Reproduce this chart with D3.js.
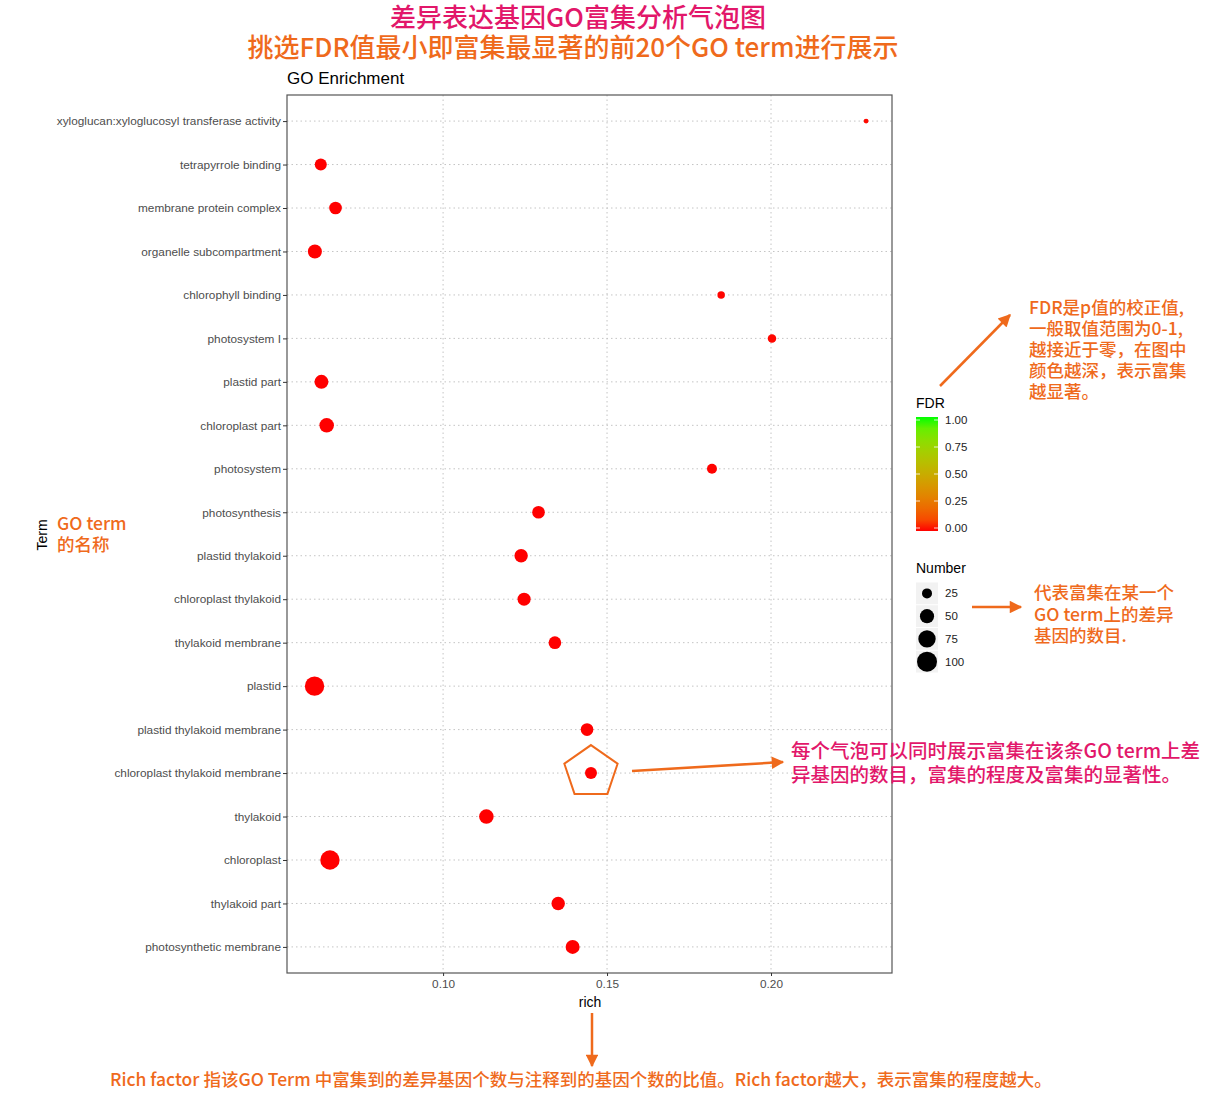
<!DOCTYPE html>
<html>
<head>
<meta charset="utf-8">
<script src="https://cdn.jsdelivr.net/npm/d3@7"></script>
<style>
  body { margin: 0; background: #fff; }
  text { font-family: "Liberation Sans", Arial, sans-serif; }
  .cn { font-family: "Noto Sans CJK SC", "Noto Sans", sans-serif; font-weight: 500; }
</style>
</head>
<body>
<div id="mydiv"></div>
<script>
// data, top row first
const terms = [
  "xyloglucan:xyloglucosyl transferase activity", "tetrapyrrole binding",
  "membrane protein complex", "organelle subcompartment", "chlorophyll binding",
  "photosystem I", "plastid part", "chloroplast part", "photosystem",
  "photosynthesis", "plastid thylakoid", "chloroplast thylakoid",
  "thylakoid membrane", "plastid", "plastid thylakoid membrane",
  "chloroplast thylakoid membrane", "thylakoid", "chloroplast",
  "thylakoid part", "photosynthetic membrane"
];
const rich = [0.229, 0.0627, 0.0672, 0.0609, 0.1848, 0.2003, 0.0629, 0.0645, 0.182,
  0.1291, 0.1238, 0.1247, 0.1341, 0.0608, 0.1439, 0.1451, 0.1132, 0.0655, 0.1351, 0.1395];
const number = [6, 36, 40, 49, 14, 18, 49, 53, 25, 40, 45, 43, 40, 94, 40, 36, 53, 94, 45, 49];
const fdr = [0.004, 0.0001, 0.0001, 0.0001, 0.002, 0.003, 0.0001, 0.0001, 0.001,
  0.0001, 0.0001, 0.0001, 0.0001, 0.0001, 0.0001, 0.0001, 0.0001, 0.0001, 0.0001, 0.0001];
const xTicks = [0.10, 0.15, 0.20];
const fdrTicks = [0, 0.25, 0.5, 0.75, 1];
const sizeBreaks = [25, 50, 75, 100];

const orange = "#ef6a1c", pink = "#e2176a";

const svg = d3.select("#mydiv").append("svg")
  .attr("width", 1215).attr("height", 1111);

const pL = 287, pR = 892, pT = 95, pB = 973;

const x = d3.scaleLinear().domain([0.0524, 0.2369]).range([pL, pR]);
const y = d3.scalePoint().domain(terms).range([pT, pB]).padding(0.6);
const r = d3.scaleSqrt().domain([0, 100]).range([0, 10]);
const color = d3.scaleLinear().domain([0, 1]).range(["#ff0000", "#00ff00"])
  .interpolate(d3.interpolateLab);

const defs = svg.append("defs");

// grid
const grid = svg.append("g").attr("stroke", "#c4c4c4").attr("stroke-dasharray", "1.5,3");
grid.selectAll(".gy").data(terms).enter().append("line")
  .attr("x1", pL).attr("x2", pR)
  .attr("y1", d => y(d)).attr("y2", d => y(d));
grid.selectAll(".gx").data(xTicks).enter().append("line")
  .attr("x1", d => x(d)).attr("x2", d => x(d))
  .attr("y1", pT).attr("y2", pB);

// points
svg.append("g").selectAll("circle")
  .data(terms).enter().append("circle")
  .attr("cx", (d, i) => x(rich[i]))
  .attr("cy", d => y(d))
  .attr("r", (d, i) => r(number[i]))
  .attr("fill", (d, i) => color(fdr[i]));

// panel border
svg.append("rect").attr("x", pL).attr("y", pT)
  .attr("width", pR - pL).attr("height", pB - pT)
  .attr("fill", "none").attr("stroke", "#555").attr("stroke-width", 1.2);

// axes
const ya = svg.append("g").attr("transform", `translate(${pL},0)`)
  .call(d3.axisLeft(y).tickSize(4).tickPadding(2));
const xa = svg.append("g").attr("transform", `translate(0,${pB})`)
  .call(d3.axisBottom(x).tickValues(xTicks).tickFormat(d3.format(".2f")).tickSize(3).tickPadding(4));
[ya, xa].forEach(a => {
  a.select(".domain").remove();
  a.selectAll(".tick line").attr("stroke", "#333");
  a.selectAll(".tick text").attr("fill", "#4d4d4d").style("font-size", "11.8px")
    .style("font-family", "Liberation Sans, Arial, sans-serif");
});

svg.append("text").attr("x", pL).attr("y", 84)
  .style("font-size", "17px").attr("fill", "#000").text("GO Enrichment");
svg.append("text").attr("x", 590).attr("y", 1007).attr("text-anchor", "middle")
  .style("font-size", "14px").text("rich");
svg.append("text").attr("transform", "translate(47,535) rotate(-90)")
  .attr("text-anchor", "middle").style("font-size", "14px").text("Term");

// FDR legend
const lg = svg.append("g");
lg.append("text").attr("x", 916).attr("y", 408).style("font-size", "14px").text("FDR");
const grad = defs.append("linearGradient").attr("id", "fdrg")
  .attr("x1", 0).attr("y1", 1).attr("x2", 0).attr("y2", 0);
d3.range(0, 1.01, 0.1).forEach(t => {
  grad.append("stop").attr("offset", t).attr("stop-color", color(t));
});
const cb = d3.scaleLinear().domain([0, 1]).range([528, 420]);
lg.append("rect").attr("x", 916).attr("y", 417).attr("width", 22).attr("height", 114)
  .attr("fill", "url(#fdrg)");
lg.selectAll(".ct").data(fdrTicks).enter().append("g").each(function (d) {
  const g = d3.select(this);
  g.append("line").attr("x1", 916).attr("x2", 920).attr("y1", cb(d)).attr("y2", cb(d))
    .attr("stroke", "#fff").attr("stroke-width", 0.8);
  g.append("line").attr("x1", 934).attr("x2", 938).attr("y1", cb(d)).attr("y2", cb(d))
    .attr("stroke", "#fff").attr("stroke-width", 0.8);
  g.append("text").attr("x", 945).attr("y", cb(d) + 4).style("font-size", "11.5px")
    .attr("fill", "#222").text(d3.format(".2f")(d));
});

// Number legend
lg.append("text").attr("x", 916).attr("y", 573).style("font-size", "14px").text("Number");
const ky = d3.scaleBand().domain(sizeBreaks).range([582, 673]);
const keys = lg.selectAll(".sk").data(sizeBreaks).enter().append("g");
keys.append("rect").attr("x", 916).attr("y", d => ky(d) + 0.5)
  .attr("width", 22).attr("height", ky.bandwidth() - 1).attr("fill", "#f2f2f2");
keys.append("circle").attr("cx", 927).attr("cy", d => ky(d) + ky.bandwidth() / 2)
  .attr("r", d => r(d)).attr("fill", "#000");
keys.append("text").attr("x", 945).attr("y", d => ky(d) + ky.bandwidth() / 2 + 4)
  .style("font-size", "11.5px").attr("fill", "#222").text(d => d);

// annotations
defs.append("marker").attr("id", "ah").attr("viewBox", "0 0 10 10")
  .attr("refX", 9).attr("refY", 5).attr("markerWidth", 6).attr("markerHeight", 5)
  .attr("markerUnits", "strokeWidth").attr("orient", "auto")
  .append("path").attr("d", "M0,0 L10,5 L0,10 z").attr("fill", orange);

function arrow(x1, y1, x2, y2) {
  svg.append("line").attr("x1", x1).attr("y1", y1).attr("x2", x2).attr("y2", y2)
    .attr("stroke", orange).attr("stroke-width", 2.5).attr("marker-end", "url(#ah)");
}
function lines(arr, x0, y0, dy, size, fill, anchor) {
  arr.forEach((s, i) => svg.append("text").attr("class", "cn")
    .style("font-size", size + "px").attr("fill", fill)
    .attr("text-anchor", anchor || "start")
    .attr("x", x0).attr("y", y0 + i * dy).text(s));
}

lines(["差异表达基因GO富集分析气泡图"], 578, 27, 0, 26, pink, "middle");
lines(["挑选FDR值最小即富集最显著的前20个GO term进行展示"], 573, 57, 0, 26, orange, "middle");

lines(["FDR是p值的校正值,", "一般取值范围为0-1,", "越接近于零，在图中", "颜色越深，表示富集", "越显著。"],
  1029, 314, 21, 17.5, orange);
arrow(940, 386, 1010, 315);

lines(["代表富集在某一个", "GO term上的差异", "基因的数目."], 1034, 599, 21.5, 17.5, orange);
arrow(972, 607, 1021, 607);

lines(["GO term", "的名称"], 57, 530, 21, 17.5, orange);

lines(["每个气泡可以同时展示富集在该条GO term上差", "异基因的数目，富集的程度及富集的显著性。"],
  791, 758, 24, 19.5, pink);
arrow(632, 771, 783, 762);

// pentagon around the chloroplast thylakoid membrane point
const pc = [x(rich[15]), y(terms[15]) - 1];
const pent = d3.range(5).map(k => {
  const a = -Math.PI / 2 + k * 2 * Math.PI / 5;
  return [pc[0] + 28 * Math.cos(a), pc[1] + 27 * Math.sin(a)];
});
svg.append("path").attr("d", d3.line()(pent) + "Z")
  .attr("fill", "none").attr("stroke", orange).attr("stroke-width", 2);

arrow(592, 1013, 592, 1066);
lines(["Rich factor 指该GO Term 中富集到的差异基因个数与注释到的基因个数的比值。Rich factor越大，表示富集的程度越大。"],
  110, 1086, 0, 17.5, orange);
</script>
</body>
</html>
